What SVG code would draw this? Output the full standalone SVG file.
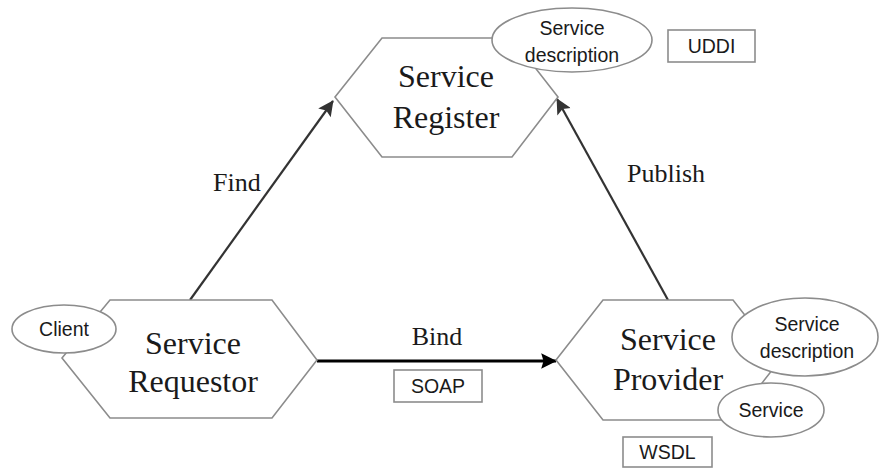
<svg xmlns="http://www.w3.org/2000/svg" width="879" height="468" viewBox="0 0 879 468">
  <style>
    .hex { fill: #fff; stroke: #8c8c8c; stroke-width: 1.6; }
    .ell { fill: #fff; stroke: #8c8c8c; stroke-width: 1.6; }
    .box { fill: #fff; stroke: #8c8c8c; stroke-width: 1.6; }
    .big { font-family: "Liberation Serif", "Times New Roman", serif; font-size: 32px; fill: #1a1a1a; text-anchor: middle; }
    .lbl { font-family: "Liberation Serif", "Times New Roman", serif; font-size: 26px; fill: #1a1a1a; }
    .sm { font-family: "Liberation Sans", Arial, sans-serif; font-size: 19.5px; fill: #1a1a1a; text-anchor: middle; }
    .conn { stroke: #333; stroke-width: 2.2; fill: none; }
    .bind { stroke: #000; stroke-width: 3; fill: none; }
  </style>
  <defs>
    <marker id="arrow" viewBox="0 0 10 10" refX="9.5" refY="5" markerWidth="8" markerHeight="7" markerUnits="strokeWidth" orient="auto">
      <path d="M0,0 L10,5 L0,10 L2,5 z" fill="#333"/>
    </marker>
    <marker id="arrowBlack" viewBox="0 0 10 10" refX="9.5" refY="5" markerWidth="5.8" markerHeight="5.2" markerUnits="strokeWidth" orient="auto">
      <path d="M0,0 L10,5 L0,10 L1.5,5 z" fill="#000"/>
    </marker>
  </defs>
  <rect width="879" height="468" fill="#fff"/>

  <!-- connectors -->
  <g id="connectors">
    <line class="conn" x1="190" y1="300" x2="333" y2="101" marker-end="url(#arrow)"/>
    <line class="conn" x1="668" y1="300" x2="557" y2="99" marker-end="url(#arrow)"/>
    <line class="bind" x1="317" y1="361" x2="556" y2="361" marker-end="url(#arrowBlack)"/>
    <text class="lbl" x="213" y="191">Find</text>
    <text class="lbl" x="627" y="182">Publish</text>
    <text class="lbl" x="437" y="345" text-anchor="middle">Bind</text>
  </g>

  <!-- registry node -->
  <g id="service-register">
    <polygon class="hex" points="382,38 512,38 558,97 512,157 382,157 335,97"/>
    <text class="big" x="446" y="87">Service</text>
    <text class="big" x="446" y="128">Register</text>
    <ellipse class="ell" cx="572" cy="40" rx="80" ry="32"/>
    <text class="sm" x="572" y="35">Service</text>
    <text class="sm" x="572" y="62">description</text>
  </g>

  <g id="uddi">
    <rect class="box" x="668" y="30" width="87" height="32"/>
    <text class="sm" x="711.5" y="53">UDDI</text>
  </g>

  <!-- requestor node -->
  <g id="service-requestor">
    <polygon class="hex" points="110,300 272,300 317,360 272,418 110,418 62,358"/>
    <text class="big" x="193" y="354">Service</text>
    <text class="big" x="193" y="392">Requestor</text>
    <ellipse class="ell" cx="64" cy="329" rx="52" ry="24"/>
    <text class="sm" x="64" y="336">Client</text>
  </g>

  <!-- provider node -->
  <g id="service-provider">
    <polygon class="hex" points="603,300 733,300 780,360 733,420 603,420 556,360"/>
    <text class="big" x="668" y="350">Service</text>
    <text class="big" x="668" y="390">Provider</text>
    <ellipse class="ell" cx="805" cy="337" rx="73" ry="39"/>
    <text class="sm" x="807" y="331">Service</text>
    <text class="sm" x="807" y="358">description</text>
    <ellipse class="ell" cx="771" cy="410" rx="53" ry="27"/>
    <text class="sm" x="771" y="417">Service</text>
  </g>

  <g id="soap">
    <rect class="box" x="394" y="370" width="88" height="32"/>
    <text class="sm" x="438" y="393">SOAP</text>
  </g>

  <g id="wsdl">
    <rect class="box" x="623" y="437" width="89" height="30"/>
    <text class="sm" x="667.5" y="459">WSDL</text>
  </g>
</svg>
